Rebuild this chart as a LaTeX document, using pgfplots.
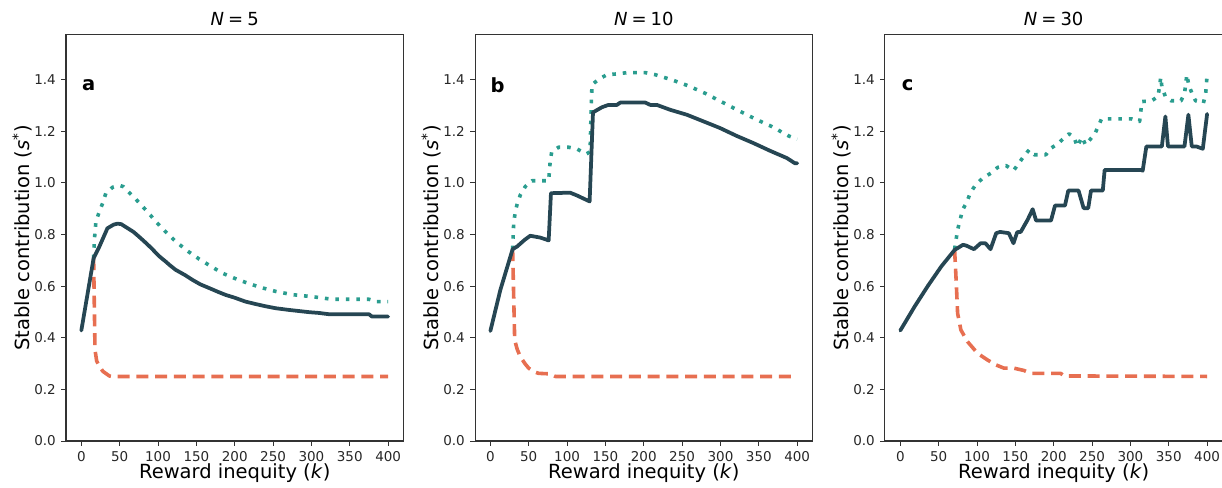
\documentclass[border=0pt]{standalone}
\usepackage{pgfplots}
\pgfplotsset{compat=1.18}
\usepackage{fontspec}
\setmainfont{DejaVu Sans}

\definecolor{cdark}{HTML}{264653}
\definecolor{cteal}{HTML}{2A9D8F}
\definecolor{corange}{HTML}{E76F51}

\pgfplotsset{
  panel/.style={
    scale only axis, width=225pt, height=270.7pt,
    xmin=-20, xmax=420, ymin=0, ymax=1.573,
    xtick={0,50,...,400},
    ytick={0,0.2,...,1.4},
    yticklabel style={/pgf/number format/.cd, fixed, fixed zerofill, precision=1},
    /pgf/number format/assume math mode=true,
    tick align=outside, xtick pos=bottom, ytick pos=left,
    major tick length=3.3pt,
    tick style={black!80, line width=0.6pt},
    axis line style={black!80, line width=0.7pt},
    ticklabel style={font=\fontsize{9}{10}\selectfont, text=black!85},
    xlabel={Reward inequity (\textit{k})},
    xlabel style={font=\fontsize{13}{15}\selectfont, at={(axis description cs:0.5,-0.079)}, anchor=center},
    ylabel={Stable contribution (\textit{s}\textsuperscript{*})},
    ylabel style={font=\fontsize{13}{15}\selectfont, at={(axis description cs:-0.130,0.5)}, anchor=center},
    every axis title shift=0pt,
    title style={font=\fontsize{12}{14}\selectfont, at={(axis description cs:0.5,1.04)}, anchor=center},
    clip=false,
  },
  sol/.style={cdark, line width=2.5pt, line join=round, line cap=round, no marks},
  dot/.style={cteal, line width=2.4pt, dash pattern=on 2.4pt off 4.6pt, line join=round, no marks},
  das/.style={corange, line width=2.4pt, dash pattern=on 8pt off 4.5pt, line join=round, no marks},
}

\begin{document}
\begin{tikzpicture}
% ---- panel a: N = 5
\begin{axis}[panel, name=a, title={\textit{N}\:=\:5}]
\addplot[dot] coordinates {
(16,0.708)(17,0.779)(19,0.85)(23.5,0.889)(27.8,0.921)(32,0.96)(40.8,0.983)(50,0.99)
(55,0.985)(62.5,0.962)(70,0.94)(80,0.908)(90,0.875)(97,0.85)(110,0.81)(123,0.773)
(138,0.737)(154,0.704)(170,0.675)(184,0.650)(200,0.630)(219,0.609)(235,0.594)
(254,0.579)(275,0.567)(301,0.559)(327,0.549)(375,0.549)(385,0.540)(400,0.540)
};
\addplot[das] coordinates {
(16,0.708)(17.8,0.353)(20,0.31)(22.6,0.295)(28,0.27)(36.5,0.252)(40,0.25)(400,0.25)
};
\addplot[sol] coordinates {
(0,0.428)(16,0.708)(23.5,0.753)(34,0.824)(42,0.838)(47,0.842)(52,0.840)(60,0.825)
(68,0.810)(75,0.792)(85,0.765)(92,0.745)(101,0.717)(110,0.695)(115,0.682)(123,0.663)
(135,0.643)(145,0.624)(155,0.607)(167,0.592)(178,0.578)(188,0.566)(200,0.555)
(214,0.540)(228,0.530)(240,0.522)(254,0.514)(270,0.508)(285,0.503)(297,0.499)
(310,0.496)(323,0.491)(375,0.491)(379,0.482)(400,0.482)
};
\node[font=\bfseries\fontsize{13}{15}\selectfont] at (rel axis cs:0.067,0.877) {a};
\end{axis}

% ---- panel b: N = 10
\begin{axis}[panel, name=b, at={(272.7pt,0)}, title={\textit{N}\:=\:10}]
\addplot[dot] coordinates {
(29,0.743)(30.4,0.844)(32.6,0.89)(34.7,0.915)(39,0.953)(45.6,0.986)(54,1.008)(76,1.008)
(78,1.083)(80,1.121)(89,1.138)(102,1.138)(113,1.131)(125,1.112)(130,1.12)(131.5,1.30)
(132.5,1.380)(141,1.401)(152,1.419)(165,1.422)(178,1.427)(202,1.427)(215,1.419)
(236.7,1.399)(258,1.376)(280,1.347)(302,1.313)(323.5,1.280)(345,1.248)(367,1.218)
(388.7,1.182)(400,1.169)
};
\addplot[das] coordinates {
(29,0.743)(30.4,0.559)(31.7,0.391)(35,0.355)(39,0.327)(45,0.30)(50,0.282)(57,0.268)
(63,0.262)(78,0.26)(84.7,0.25)(400,0.25)
};
\addplot[sol] coordinates {
(0,0.426)(13,0.585)(29,0.743)(34.7,0.753)(45,0.78)(52,0.795)(65,0.788)(76,0.777)
(79,0.960)(104,0.962)(113,0.951)(129.4,0.928)(133.8,1.273)(145.5,1.293)(154,1.302)
(165,1.302)(169.4,1.311)(202,1.311)(208.5,1.302)(217,1.302)(234.5,1.283)(256,1.264)
(278,1.238)(299.7,1.212)(321,1.182)(343,1.154)(364.8,1.124)(386.6,1.096)(397,1.076)
(400,1.076)
};
\node[font=\bfseries\fontsize{13}{15}\selectfont] at (rel axis cs:0.067,0.877) {b};
\end{axis}

% ---- panel c: N = 30
\begin{axis}[panel, name=c, at={(546pt,0)}, title={\textit{N}\:=\:30}]
\addplot[dot] coordinates {
(70.8,0.743)(74.7,0.818)(81.2,0.895)(87,0.928)(91.4,0.962)(98.8,0.995)(107.5,1.018)
(118.3,1.038)(127,1.06)(137.8,1.067)(147.8,1.048)(153,1.070)(160.8,1.102)(168,1.128)
(174.6,1.109)(189.8,1.109)(196,1.134)(205,1.150)(213,1.173)(220,1.190)(226.6,1.177)
(230.6,1.141)(237,1.177)(241.5,1.147)(253.7,1.19)(262.4,1.248)(301.5,1.248)(312,1.238)
(315,1.315)(327.6,1.318)(336,1.334)(339.6,1.409)(341,1.373)(345.6,1.334)(353,1.318)
(366,1.318)(370.6,1.347)(373.6,1.419)(376,1.38)(381,1.341)(385,1.318)(395.2,1.309)
(398.2,1.347)(400,1.419)
};
\addplot[das] coordinates {
(70.8,0.740)(73,0.611)(74.7,0.495)(79,0.430)(87.6,0.385)(100.6,0.340)(113.6,0.314)
(124.5,0.295)(135.3,0.282)(148.3,0.282)(161.4,0.273)(170,0.262)(209,0.262)
(213.7,0.252)(400,0.25)
};
\addplot[sol] coordinates {
(0,0.428)(18.7,0.521)(36,0.601)(53.4,0.676)(70.8,0.740)(81.7,0.760)(86,0.757)
(96,0.743)(104.7,0.766)(111,0.766)(117.6,0.743)(125,0.805)(130,0.81)(141.5,0.805)
(147.5,0.766)(152.4,0.809)(157,0.81)(166,0.857)(172.6,0.898)(177,0.854)(196.5,0.854)
(201.7,0.912)(214.7,0.912)(219,0.970)(232.4,0.970)(239,0.902)(245,0.902)(248.6,0.970)
(264,0.970)(266.4,1.050)(314.5,1.050)(316,1.047)(320.8,1.141)(341,1.141)(345.6,1.257)
(349,1.141)(370.5,1.141)(375.6,1.264)(380,1.141)(386,1.141)(394.4,1.132)(400,1.267)
};
\node[font=\bfseries\fontsize{13}{15}\selectfont] at (rel axis cs:0.067,0.877) {c};
\end{axis}

\pgfresetboundingbox
\path (-44pt,-30.7pt) rectangle (770.7pt,294pt);
\end{tikzpicture}
\end{document}
